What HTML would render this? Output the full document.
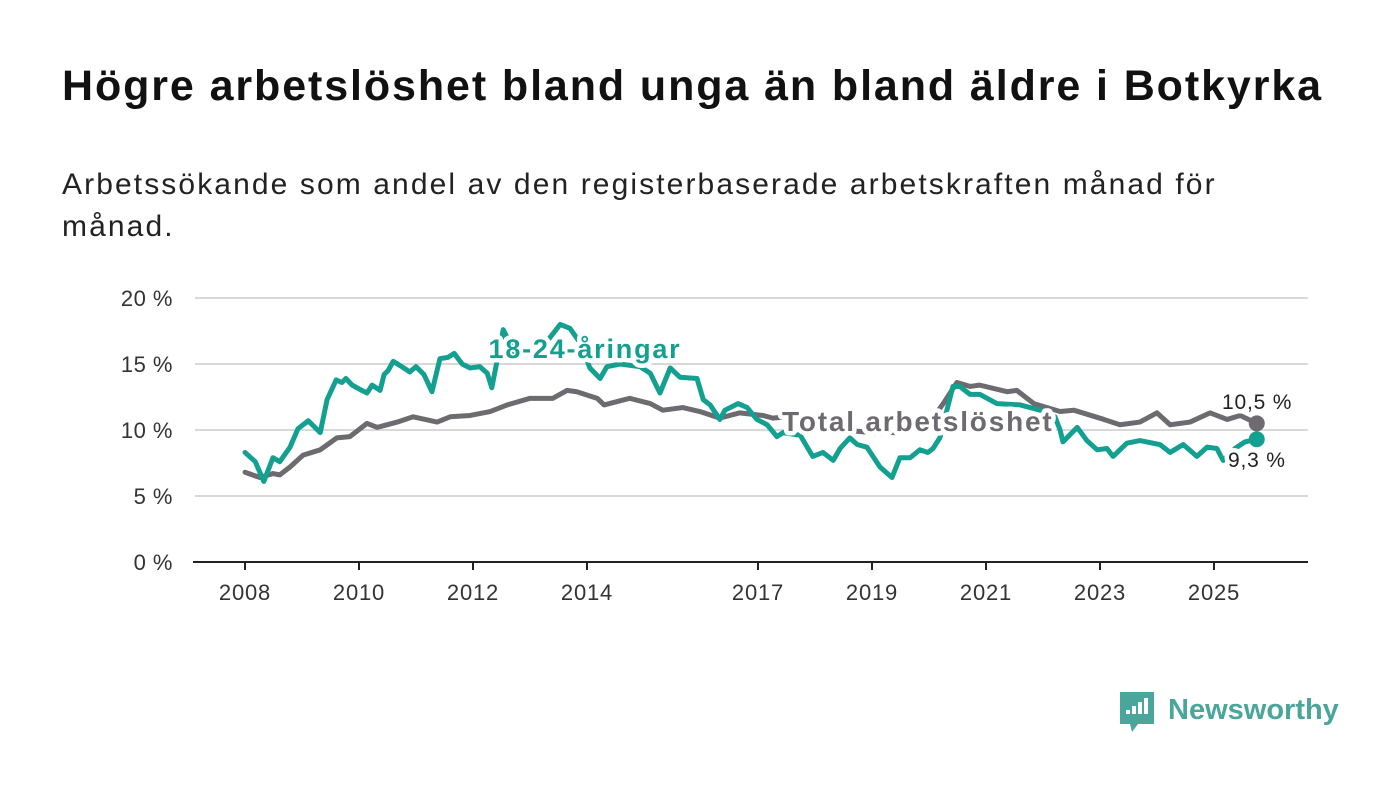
<!DOCTYPE html>
<html><head><meta charset="utf-8">
<style>
body{margin:0;background:#fff;width:1400px;height:794px;overflow:hidden;font-family:"Liberation Sans",sans-serif;}
h1{position:absolute;left:62px;top:62px;margin:0;font-size:43px;font-weight:bold;color:#111;letter-spacing:1.9px;white-space:nowrap}
.sub{position:absolute;left:62px;top:164px;margin:0;font-size:30px;line-height:42px;color:#222;width:1300px;letter-spacing:2.1px}
svg{position:absolute;left:0;top:0}
</style></head><body>
<h1>Högre arbetslöshet bland unga än bland äldre i Botkyrka</h1>
<p class="sub">Arbetssökande som andel av den registerbaserade arbetskraften månad för<br>månad.</p>
<svg id="chart" width="1400" height="794"></svg>
<script>
const yTicks=[0,5,10,15,20];
const yTickLabels=["0 %","5 %","10 %","15 %","20 %"];
const xTicks=[2008,2010,2012,2014,2017,2019,2021,2023,2025];
const youthDates=[2008.0,2008.18,2008.33,2008.49,2008.61,2008.79,2008.93,2009.11,2009.32,2009.44,2009.6,2009.7,2009.77,2009.88,2010.05,2010.14,2010.23,2010.37,2010.44,2010.51,2010.6,2010.75,2010.89,2011.0,2011.14,2011.28,2011.42,2011.56,2011.67,2011.81,2011.95,2012.12,2012.25,2012.33,2012.53,2012.74,2013.0,2013.26,2013.53,2013.7,2013.88,2014.05,2014.23,2014.35,2014.58,2014.93,2015.11,2015.28,2015.46,2015.63,2015.93,2016.04,2016.16,2016.33,2016.42,2016.65,2016.81,2016.98,2017.16,2017.33,2017.44,2017.74,2017.96,2018.14,2018.32,2018.44,2018.61,2018.74,2018.91,2019.14,2019.35,2019.49,2019.67,2019.84,2019.98,2020.07,2020.19,2020.42,2020.54,2020.72,2020.89,2021.19,2021.6,2021.95,2022.21,2022.3,2022.35,2022.6,2022.77,2022.95,2023.12,2023.23,2023.47,2023.7,2024.05,2024.23,2024.46,2024.7,2024.88,2025.05,2025.16,2025.37,2025.54,2025.75];
const youthValues=[8.3,7.6,6.1,7.9,7.6,8.7,10.1,10.7,9.8,12.3,13.8,13.6,13.9,13.4,13.0,12.8,13.4,13.0,14.2,14.5,15.2,14.8,14.4,14.8,14.2,12.9,15.4,15.5,15.8,15.0,14.7,14.8,14.3,13.2,17.6,15.8,16.2,16.5,18.0,17.7,16.6,14.7,13.9,14.8,15.0,14.8,14.3,12.8,14.7,14.0,13.9,12.3,11.9,10.8,11.5,12.0,11.7,10.8,10.4,9.5,9.8,9.6,8.0,8.3,7.7,8.6,9.4,8.9,8.7,7.2,6.4,7.9,7.9,8.5,8.3,8.6,9.4,13.3,13.3,12.7,12.7,12.0,11.9,11.5,11.0,10.0,9.1,10.2,9.2,8.5,8.6,8.0,9.0,9.2,8.9,8.3,8.9,8.0,8.7,8.6,7.7,8.6,9.1,9.3];
const totalDates=[2008.0,2008.26,2008.49,2008.61,2008.79,2009.02,2009.32,2009.61,2009.84,2010.14,2010.32,2010.67,2010.95,2011.37,2011.6,2011.95,2012.3,2012.6,2013.0,2013.4,2013.65,2013.82,2014.18,2014.3,2014.75,2015.11,2015.33,2015.68,2015.98,2016.33,2016.68,2017.09,2017.26,2017.5,2018.0,2018.5,2019.0,2019.5,2020.0,2020.25,2020.49,2020.72,2020.89,2021.37,2021.54,2021.84,2022.3,2022.54,2023.07,2023.35,2023.7,2024.0,2024.23,2024.58,2024.93,2025.23,2025.46,2025.75];
const totalValues=[6.8,6.4,6.7,6.6,7.2,8.1,8.5,9.4,9.5,10.5,10.2,10.6,11.0,10.6,11.0,11.1,11.4,11.9,12.4,12.4,13.0,12.9,12.4,11.9,12.4,12.0,11.5,11.7,11.4,10.9,11.3,11.1,10.9,11.0,10.5,10.0,9.8,9.8,10.5,12.0,13.6,13.3,13.4,12.9,13.0,12.0,11.4,11.5,10.8,10.4,10.6,11.3,10.4,10.6,11.3,10.8,11.1,10.5];

const NS="http://www.w3.org/2000/svg";
const svg=document.getElementById('chart');
const x=yr=>245+(yr-2008)*57;
const y=v=>562-v*13.2;
function mk(tag,attrs,parent){const e=document.createElementNS(NS,tag);for(const k in attrs)e.setAttribute(k,attrs[k]);(parent||svg).appendChild(e);return e;}
const font='"Liberation Sans",sans-serif';
yTicks.forEach((t,i)=>{
  if(t>0){const g=mk('line',{x1:195,x2:1308,y1:y(t),y2:y(t),stroke:'#d9d9d9','stroke-width':2});
  
  }
  const l=mk('text',{x:173,y:y(t)+8,'text-anchor':'end','font-size':22,fill:'#333','font-family':font,'letter-spacing':0.5});
  l.textContent=yTickLabels[i];
  
  
});
const ax=mk('line',{x1:193,x2:1308,y1:562,y2:562,stroke:'#222','stroke-width':2});


xTicks.forEach(t=>{
  const tk=mk('line',{x1:x(t),x2:x(t),y1:562,y2:570,stroke:'#222','stroke-width':2});
  
  
  const l=mk('text',{x:x(t),y:600,'text-anchor':'middle','font-size':22,fill:'#333','font-family':font,'letter-spacing':0.8});
  l.textContent=t;
  
  
});
function line(d,v,col,name){
  const p=mk('polyline',{points:d.map((t,i)=>x(t)+','+y(v[i])).join(' '),fill:'none',stroke:col,'stroke-width':5,'stroke-linejoin':'round','stroke-linecap':'round'});
  
  
}
const green='#13a090',gray='#6d6a70';
line(totalDates,totalValues,gray,'total-line');
line(youthDates,youthValues,green,'youth-line');
function lab(txt,xx,yy,col,size,w,name,anchor,ls){
  const t=mk('text',{x:xx,y:yy,'font-size':size,'font-weight':w,fill:col,'font-family':font,stroke:'#fff','stroke-width':9,'paint-order':'stroke','stroke-linejoin':'round','text-anchor':anchor||'start','letter-spacing':ls||0});
  t.textContent=txt;
  
  
}
lab('18-24-åringar',585,358,green,27,'bold','youth-series-label','middle',1.8);
lab('Total arbetslöshet',782,431,gray,28,'bold','total-series-label','start',1.8);
const lt=totalValues.length-1, ly=youthValues.length-1;
const d1=mk('circle',{cx:x(totalDates[lt]),cy:y(totalValues[lt]),r:8,fill:gray});


const d2=mk('circle',{cx:x(youthDates[ly]),cy:y(youthValues[ly]),r:8,fill:green});


lab('10,5 %',1222,409,'#222',21,'normal','total-end-label','start',0.8);
lab('9,3 %',1228,467,'#222',21,'normal','youth-end-label','start',0.8);
const lg=mk('g',{});


mk('path',{d:'M1120 692 h34 v32 h-16 l-6 8 l-2 -8 h-10 z',fill:'#4aa59a'},lg);
[[1126,710,4],[1132,706,8],[1138,702,12],[1144,698,16]].forEach(b=>mk('rect',{x:b[0],y:b[1],width:4,height:b[2],fill:'#fff'},lg));
const lt2=mk('text',{x:1168,y:719,'font-size':29,'font-weight':'bold',fill:'#4aa59a','font-family':font},lg);
lt2.textContent='Newsworthy';
</script>
</body></html>
